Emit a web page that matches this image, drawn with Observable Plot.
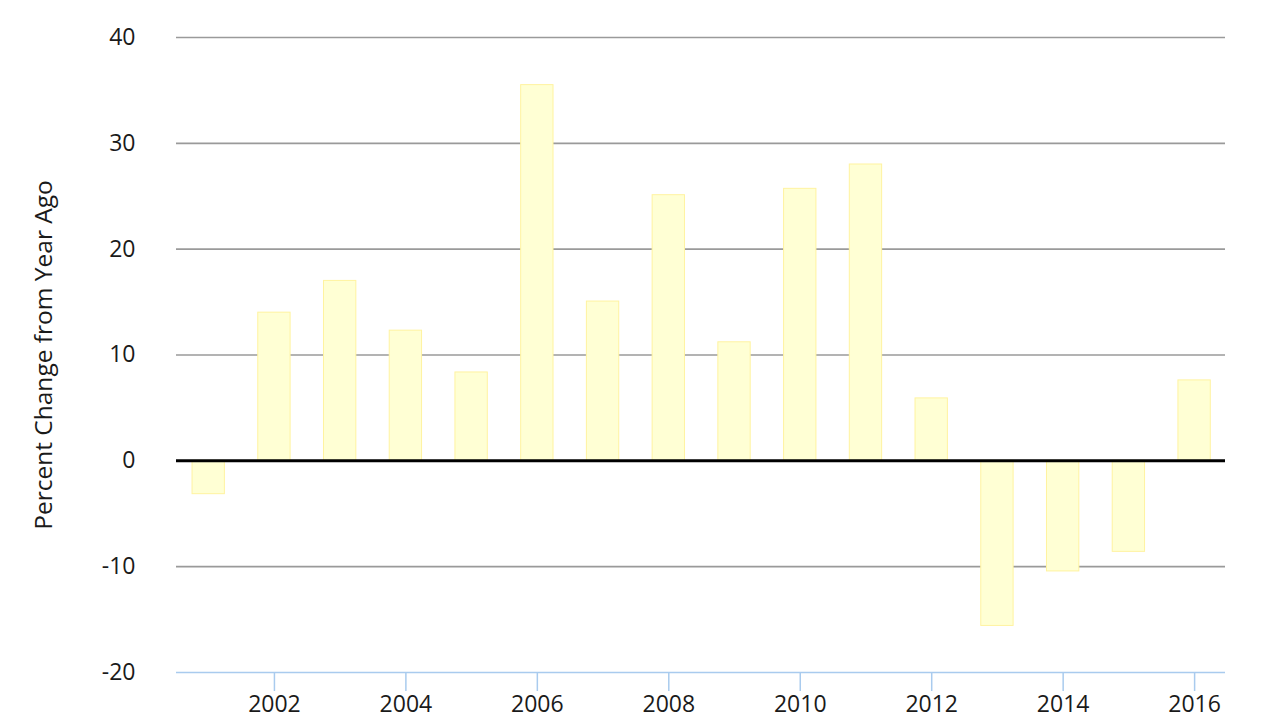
<!DOCTYPE html>
<html>
<head>
<meta charset="utf-8">
<script src="https://cdn.jsdelivr.net/npm/d3@7"></script>
<script src="https://cdn.jsdelivr.net/npm/@observablehq/plot@0.6"></script>
<style>
  html, body { margin: 0; padding: 0; background: #fff; }
  #chart { width: 1280px; height: 720px; }
</style>
</head>
<body>
<div id="chart"></div>
<script>
const years = [2001, 2002, 2003, 2004, 2005, 2006, 2007, 2008, 2009, 2010, 2011, 2012, 2013, 2014, 2015, 2016];
const values = [-3.15, 14.0, 17.0, 12.3, 8.35, 35.5, 15.05, 25.1, 11.2, 25.7, 28.0, 5.9, -15.6, -10.45, -8.6, 7.6];
const xTicks = [2002, 2004, 2006, 2008, 2010, 2012, 2014, 2016];
const yTicks = [-20, -10, 0, 10, 20, 30, 40];
const yLabel = "Percent Change from Year Ago";

const data = years.map((year, i) => ({year, value: values[i]}));
const half = 0.246;

const chart = Plot.plot({
  width: 1280,
  height: 720,
  marginLeft: 176,
  marginRight: 55,
  marginTop: 37,
  marginBottom: 48,
  style: {fontFamily: "'Open Sans', sans-serif", background: "#fff"},
  x: {domain: [2000.51, 2016.47]},
  y: {domain: [-20, 40]},
  marks: [
    Plot.gridY(yTicks.filter(d => d !== 0 && d !== -20), {stroke: "#9a9a9a", strokeOpacity: 1, strokeWidth: 1.6}),
    Plot.rectY(data, {
      x1: d => d.year - half,
      x2: d => d.year + half,
      y1: 0,
      y2: "value",
      fill: "#ffffd4",
      stroke: "#fff3a0",
      strokeWidth: 1
    }),
    Plot.ruleY([0], {stroke: "#000", strokeWidth: 3}),
    Plot.ruleY([-20], {stroke: "#a9cbee", strokeWidth: 1.5}),
    Plot.axisX({
      ticks: xTicks,
      tickFormat: d => String(d),
      tickSize: 19,
      tickPadding: 4,
      stroke: "#a9cbee",
      strokeWidth: 1.5,
      fontSize: 23,
      color: "#1a1a1a",
      label: null
    }),
    Plot.axisY({
      ticks: yTicks,
      tickFormat: d => String(d),
      tickSize: 0,
      tickPadding: 41,
      fontSize: 23,
      color: "#1a1a1a",
      label: yLabel,
      labelAnchor: "center",
      labelArrow: "none",
      labelOffset: 142
    })
  ]
});
document.getElementById("chart").appendChild(chart);
chart.querySelectorAll("text").forEach(t => {
  if (t.textContent === yLabel) t.style.fontSize = "24.5px";
});
</script>
</body>
</html>
